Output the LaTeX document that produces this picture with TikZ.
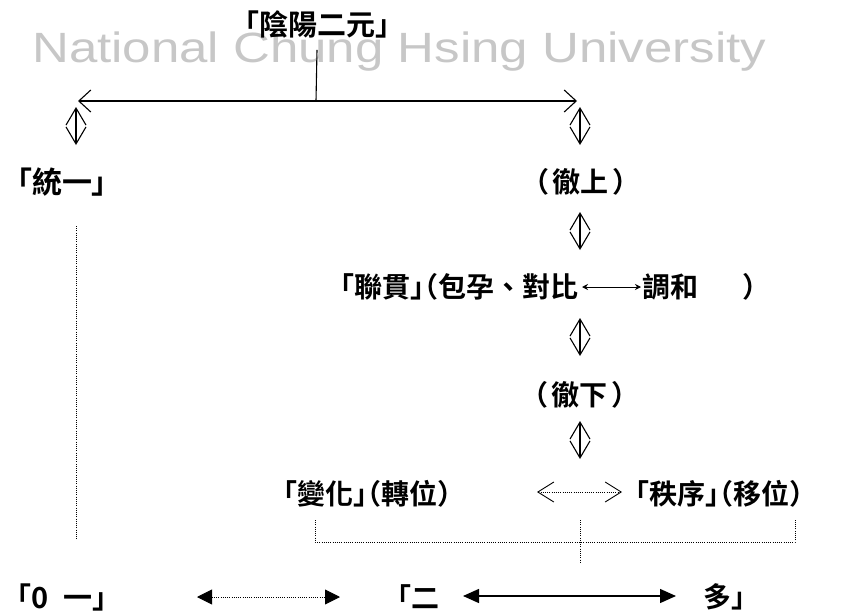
\documentclass[tikz,border=0pt]{standalone}
\usepackage{fontspec}
\usetikzlibrary{arrows.meta}
\newfontfamily\cjk{Noto Sans CJK TC}[BoldFont={* Bold}]
\newfontfamily\cjkh{Noto Sans CJK TC}[BoldFont={* Bold},CharacterWidth=AlternateHalf]
\newfontfamily\wmfont{Liberation Sans}
\tikzset{
  txth/.style={inner sep=0pt, font=\cjkh\bfseries\fontsize{28}{30}\selectfont},
  big/.style={font=\cjkh\bfseries\fontsize{30}{32}\selectfont},
  wm/.style={inner sep=0pt, anchor=base west, text=black!22, yscale=0.83, transform shape, font=\wmfont\fontsize{51}{55}\selectfont},
  ud/.style={line width=1.1pt, {Straight Barb[length=17pt,width=20pt]}-{Straight Barb[length=17pt,width=20pt]}},
  bigbarb/.style={line width=1.1pt, {Straight Barb[length=12pt,width=22pt]}-{Straight Barb[length=12pt,width=22pt]}},
  dotbarb/.style={line width=0.9pt, dash pattern=on 0.9pt off 1.3pt, {Straight Barb[length=16pt,width=20pt,line width=0.9pt]}-{Straight Barb[length=16pt,width=20pt,line width=0.9pt]}},
  dotline/.style={line width=0.9pt, dash pattern=on 0.9pt off 1.3pt},
  dottri/.style={line width=0.9pt, dash pattern=on 0.9pt off 1.3pt, {Triangle[length=15pt,width=15pt]}-{Triangle[length=15pt,width=15pt]}},
  soltri/.style={line width=1.4pt, {Triangle[length=16pt,width=14pt]}-{Triangle[length=16pt,width=14pt]}},
  thin/.style={line width=0.9pt, {Stealth[length=6pt,width=6pt]}-{Stealth[length=6pt,width=6pt]}}
}
\begin{document}
\begin{tikzpicture}[x=1pt,y=-1pt]
\useasboundingbox (0,0) rectangle (847,613);
% watermark
\node[wm] (wmk) at (32,62) {National Chung Hsing University};
% texts
\node[txth, font=\cjkh\bfseries\fontsize{29}{31}\selectfont] (yy) at (317,24) {「陰陽二元」};
\node[txth, big] (ty) at (62,182) {「統一」};
\node[txth] (cs) at (581,182) {（\kern4pt 徹上\kern4pt）};
\node[txth, anchor=east] (lg) at (579,287) {「聯貫」（包孕{\cjk 、}對比};
\node[txth, anchor=west] (th) at (642,287) {調和\hspace{44pt}）};
\node[txth] (cx) at (580,395) {（\kern4pt 徹下\kern4pt）};
\node[txth] (bh) at (367,494) {「變化」（轉位）};
\node[txth] (zx) at (719,494) {「秩序」（移位）};
\node[txth, font=\cjkh\bfseries\fontsize{29}{31}\selectfont] (ly) at (62,597) {「0\hspace{14pt}一」};
\node[txth] (er) at (418,597) {「二};
\node[txth] (du) at (724,597) {多」};
% coordinates
\coordinate (tl) at (78,101);
\coordinate (tr) at (577,101);
\coordinate (tj) at (316,101);
\coordinate (a1) at (76,107);  \coordinate (b1) at (76,145);
\coordinate (a2) at (580,107); \coordinate (b2) at (580,145);
\coordinate (a3) at (580,212); \coordinate (b3) at (580,250);
\coordinate (a4) at (580,318); \coordinate (b4) at (580,356);
\coordinate (a5) at (580,421); \coordinate (b5) at (580,459);
\coordinate (dl) at (537,492); \coordinate (dr) at (622,492);
\coordinate (vt) at (76,226); \coordinate (vb) at (76,540);
\coordinate (k1) at (315,520); \coordinate (k2) at (315,542);
\coordinate (k3) at (795,542); \coordinate (k4) at (795,520);
\coordinate (m1) at (580,520); \coordinate (m2) at (580,563);
\coordinate (bl1) at (197,597); \coordinate (bl2) at (340,597);
\coordinate (bs1) at (463,596); \coordinate (bs2) at (676,596);
% connectors
\draw[line width=1.1pt] ([yshift=-12pt]yy.south) -- (tj);
\draw[bigbarb] (tl) -- (tr);
\draw[ud] (a1) -- (b1);
\draw[ud] (a2) -- (b2);
\draw[ud] (a3) -- (b3);
\draw[ud] (a4) -- (b4);
\draw[ud] (a5) -- (b5);
\draw[thin] ([xshift=3pt]lg.east) -- ([xshift=-1pt]th.west);
\draw[dotbarb] (dl) -- (dr);
\draw[dotline] (vt) -- (vb);
\draw[dotline] (k1) -- (k2) -- (k3) -- (k4);
\draw[dotline] (m1) -- (m2);
\draw[dottri] (bl1) -- (bl2);
\draw[soltri] (bs1) -- (bs2);
\end{tikzpicture}
\end{document}
